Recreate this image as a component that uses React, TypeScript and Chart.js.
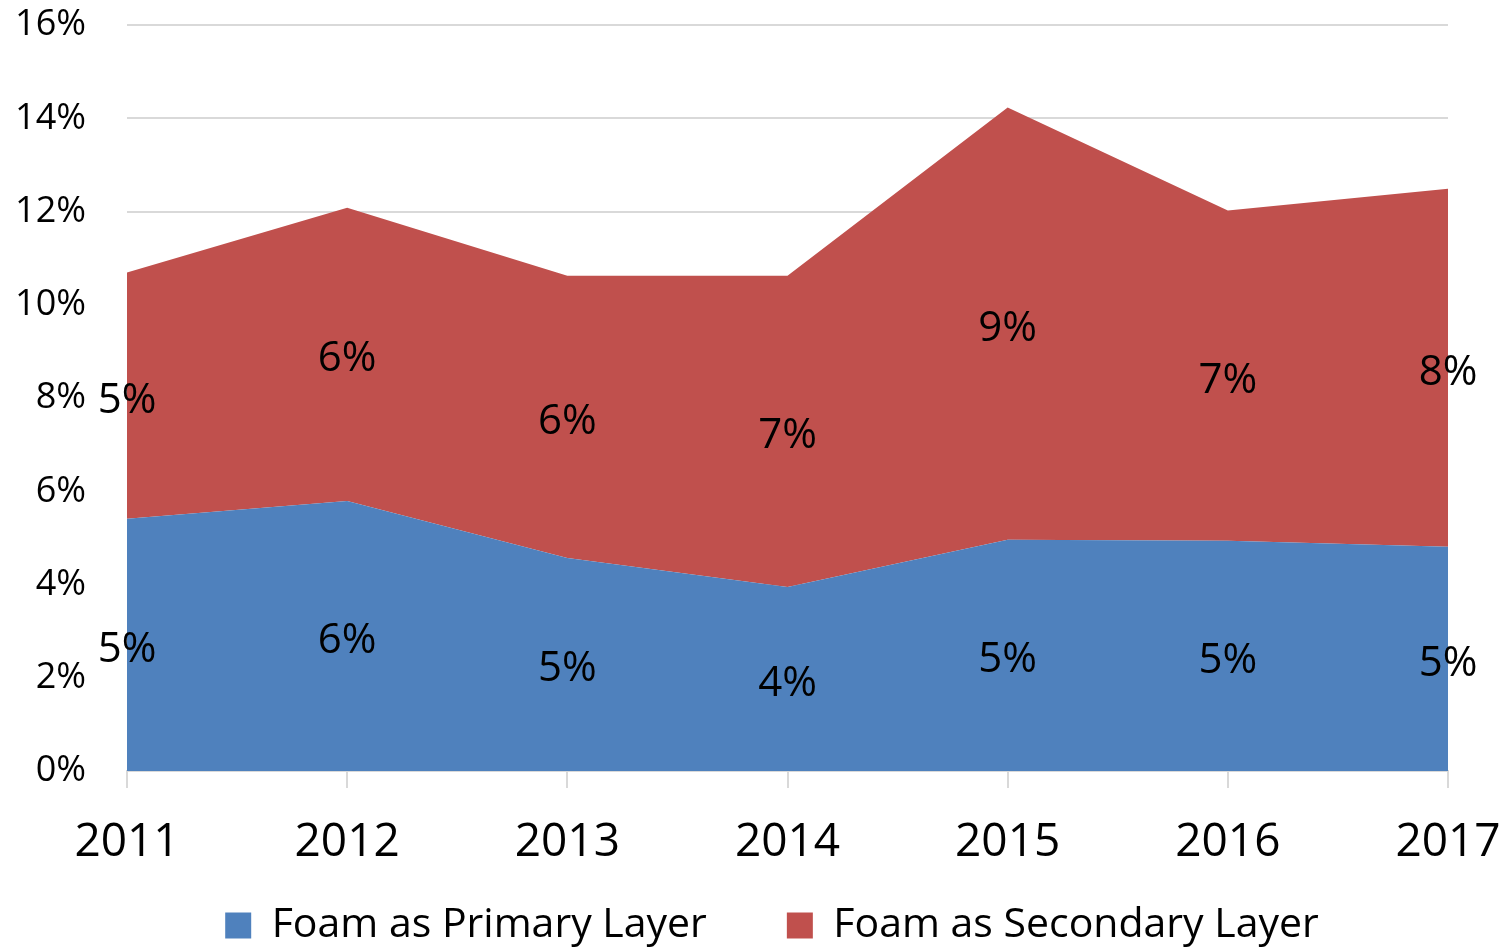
import React, { useEffect, useRef } from "react";
import { Chart, registerables } from "chart.js";

Chart.register(...registerables);

const years = ["2011", "2012", "2013", "2014", "2015", "2016", "2017"];
const primaryLayer = [5.41, 5.79, 4.57, 3.95, 4.96, 4.94, 4.81];
const secondaryLayer = [5.28, 6.29, 6.05, 6.67, 9.27, 7.08, 7.68];
const seriesNames = ["Foam as Primary Layer", "Foam as Secondary Layer"];
const seriesColors = ["#4F81BD", "#C0504D"];

const FONT = "'Open Sans', 'Noto Sans', sans-serif";

const stackLabels = {
  id: "stackLabels",
  afterDatasetsDraw(chart: any) {
    const ctx = chart.ctx;
    const yScale = chart.scales.y;
    const base = years.map(() => 0);
    ctx.save();
    ctx.font = `42px ${FONT}`;
    ctx.fillStyle = "#000000";
    ctx.textAlign = "center";
    ctx.textBaseline = "middle";
    chart.data.datasets.forEach((ds: any, i: number) => {
      const meta = chart.getDatasetMeta(i);
      ds.data.forEach((v: number, j: number) => {
        const mid = base[j] + v / 2;
        const x = meta.data[j].x;
        const y = yScale.getPixelForValue(mid) + 5;
        ctx.fillText(Math.round(v) + "%", x, y);
        base[j] += v;
      });
    });
    ctx.restore();
  },
};

// place the legend row like the original (centered a bit right, just under the year labels)
const legendPlacement = {
  id: "legendPlacement",
  afterLayout(chart: any) {
    const lg = chart.legend;
    if (!lg) return;
    const shift = 48;
    lg.left += shift;
    lg.right += shift;
    lg.top = 825;
    lg.bottom = chart.height;
    lg.height = lg.bottom - lg.top;
  },
};

export default function App() {
  const ref = useRef<HTMLCanvasElement>(null);
  useEffect(() => {
    document.body.style.margin = "0";
    const chart = new Chart(ref.current as HTMLCanvasElement, {
      type: "line",
      data: {
        labels: years,
        datasets: [
          {
            label: seriesNames[0],
            data: primaryLayer,
            backgroundColor: seriesColors[0],
            borderColor: seriesColors[0],
            borderWidth: 0,
            pointRadius: 0,
            fill: "origin",
          },
          {
            label: seriesNames[1],
            data: secondaryLayer,
            backgroundColor: seriesColors[1],
            borderColor: seriesColors[1],
            borderWidth: 0,
            pointRadius: 0,
            fill: "-1",
          },
        ],
      },
      options: {
        responsive: false,
        animation: false,
        layout: { padding: { left: 0, right: 62, top: 25, bottom: 0 } },
        plugins: {
          tooltip: { enabled: false },
          legend: {
            position: "bottom",
            maxHeight: 50,
            labels: {
              boxWidth: 26,
              boxHeight: 26,
              padding: 80,
              color: "#000000",
              font: { family: FONT, size: 41 },
            },
          },
        },
        scales: {
          x: {
            offset: false,
            grid: {
              display: true,
              drawOnChartArea: false,
              drawTicks: true,
              tickLength: 17,
              color: "#d9d9d9",
              lineWidth: 2,
            },
            border: { display: true, color: "#d9d9d9", width: 2 },
            ticks: {
              color: "#000000",
              font: { family: FONT, size: 46, lineHeight: 2.39 },
              padding: 0,
              maxRotation: 0,
            },
          },
          y: {
            stacked: true,
            min: 0,
            max: 16,
            grid: {
              color: "#d9d9d9",
              lineWidth: 2,
              drawTicks: true,
              tickLength: 41,
              tickColor: "rgba(0,0,0,0)",
            },
            border: { display: false },
            ticks: {
              stepSize: 2,
              padding: 0,
              color: "#000000",
              font: { family: FONT, size: 36 },
              callback: (v: any) => v + "%",
            },
            afterFit: (scale: any) => {
              scale.width = 127;
            },
          },
        },
      },
      plugins: [stackLabels, legendPlacement],
    });
    return () => chart.destroy();
  }, []);
  return <canvas ref={ref} width={1510} height={948} style={{ display: "block" }} />;
}
